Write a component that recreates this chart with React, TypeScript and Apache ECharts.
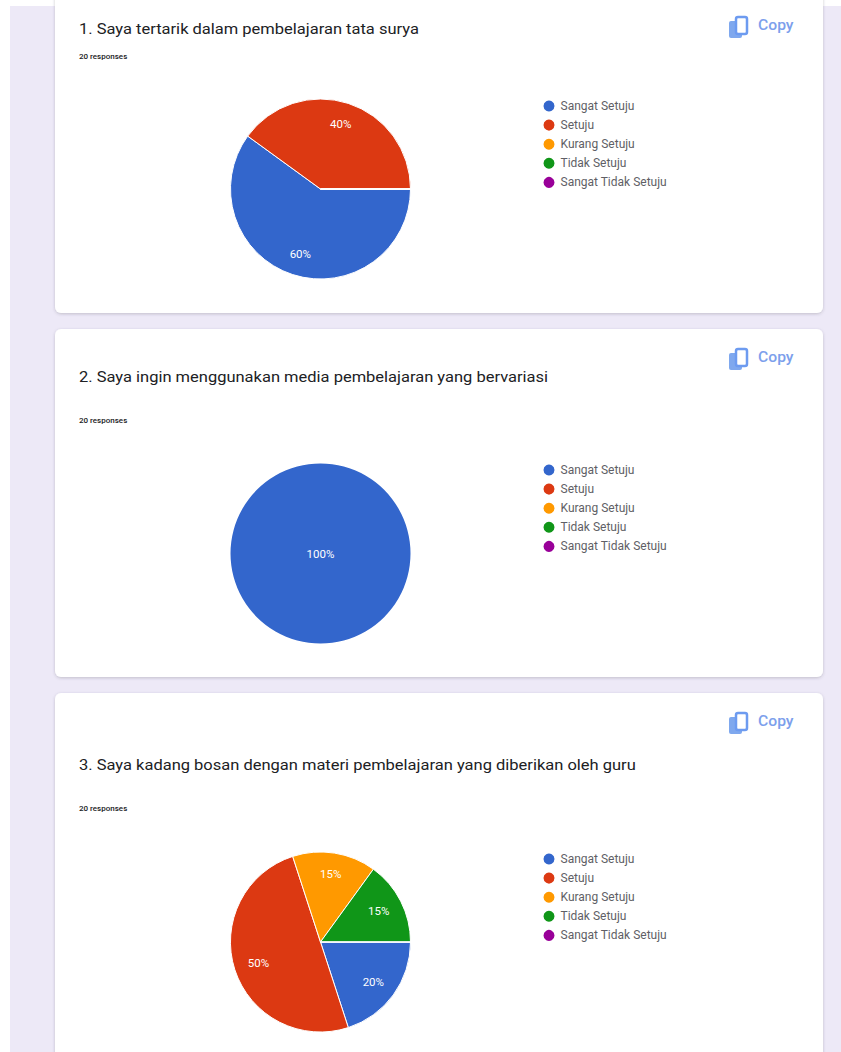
import React, { useEffect, useRef } from "react";
import * as echarts from "echarts";

const categories = ["Sangat Setuju", "Setuju", "Kurang Setuju", "Tidak Setuju", "Sangat Tidak Setuju"];
const colors = ["#3366cc", "#dc3912", "#ff9900", "#109618", "#990099"];
const titles = [
  "1. Saya tertarik dalam pembelajaran tata surya",
  "2. Saya ingin menggunakan media pembelajaran yang bervariasi",
  "3. Saya kadang bosan dengan materi pembelajaran yang diberikan oleh guru",
];
const responses = "20 responses";
const values1 = [60, 40, 0, 0, 0];
const values2 = [100, 0, 0, 0, 0];
const values3 = [20, 50, 15, 15, 0];
const allValues = [values1, values2, values3];

const cards = [
  { y: -20, h: 333, titleY: 29, respY: 56, copyY: 25, cy: 189, legendY: 98.5 },
  { y: 329, h: 348, titleY: 377, respY: 420, copyY: 357, cy: 553.5, legendY: 462.5 },
  { y: 693, h: 400, titleY: 765, respY: 808, copyY: 721, cy: 942, legendY: 851.5 },
];
const CX = 320.5;
const R = 90;
const font = "Roboto, Arial, sans-serif";

function App() {
  const ref = useRef<HTMLDivElement>(null);
  useEffect(() => {
    document.body.style.margin = "0";
    const chart = echarts.init(ref.current!, null, { renderer: "svg" });
    const graphic: any[] = [
      { type: "rect", z: -10, shape: { x: 10, y: 6, width: 831, height: 1046 }, style: { fill: "#ede9f7" } },
    ];
    cards.forEach((c, i) => {
      graphic.push({
        type: "rect", z: -9,
        shape: { x: 55, y: c.y, width: 768, height: c.h, r: 6 },
        style: { fill: "#ffffff", shadowBlur: 3, shadowColor: "rgba(60,64,67,0.25)", shadowOffsetY: 1 },
      });
      graphic.push({ type: "text", x: 79, y: c.titleY, scaleX: 1.1, style: { text: titles[i], fill: "#202124", font: `15px ${font}`, textVerticalAlign: "middle" } });
      graphic.push({ type: "text", x: 79, y: c.respY, style: { text: responses, fill: "#202124", font: `500 8px ${font}`, textVerticalAlign: "middle" } });
      graphic.push({ type: "rect", shape: { x: 729, y: c.copyY - 4, width: 13, height: 17, r: 2 }, style: { fill: "#7fa8ee" } });
      graphic.push({ type: "rect", shape: { x: 736, y: c.copyY - 8, width: 11, height: 17, r: 2 }, style: { fill: "#ffffff", stroke: "#6d9bf0", lineWidth: 2.5 } });
      graphic.push({ type: "text", x: 758, y: c.copyY, scaleX: 1.12, style: { text: "Copy", fill: "#7d9fec", font: `500 14px ${font}`, textVerticalAlign: "middle" } });
    });
    chart.setOption({
      animation: false,
      color: colors,
      graphic,
      legend: cards.map((c) => ({
        orient: "vertical",
        left: 541.5,
        top: c.legendY,
        icon: "circle",
        itemWidth: 13,
        itemHeight: 13,
        itemGap: 4.1,
        selectedMode: false,
        padding: 0,
        data: categories,
        textStyle: { fontSize: 12, lineHeight: 13, fontFamily: font, color: "#5f5f66" },
      })),
      series: cards.map((c, i) => ({
        type: "pie",
        center: [CX, c.cy],
        radius: [0, R],
        startAngle: 0,
        clockwise: true,
        itemStyle: { borderColor: "#ffffff", borderWidth: i === 1 ? 0 : 1 },
        label: {
          show: true,
          position: i === 1 ? "center" : "inside",
          color: "#ffffff",
          fontSize: 11.5,
          fontFamily: font,
          formatter: (p: any) => (p.value > 0 ? `${p.value}%` : ""),
        },
        labelLine: { show: false },
        labelLayout: i === 1 ? undefined : (p: any) => {
          const dx = p.labelRect.x + p.labelRect.width / 2 - CX;
          const dy = p.labelRect.y + p.labelRect.height / 2 - c.cy;
          return { dx: dx * 0.36, dy: dy * 0.43 };
        },
        emphasis: { disabled: true },
        data: categories.map((name, k) => ({ name, value: allValues[i][k] })),
      })),
    });
    return () => chart.dispose();
  }, []);
  return <div ref={ref} style={{ position: "absolute", left: 0, top: 0, width: 841, height: 1052, background: "#ffffff" }} />;
}

export default App;
